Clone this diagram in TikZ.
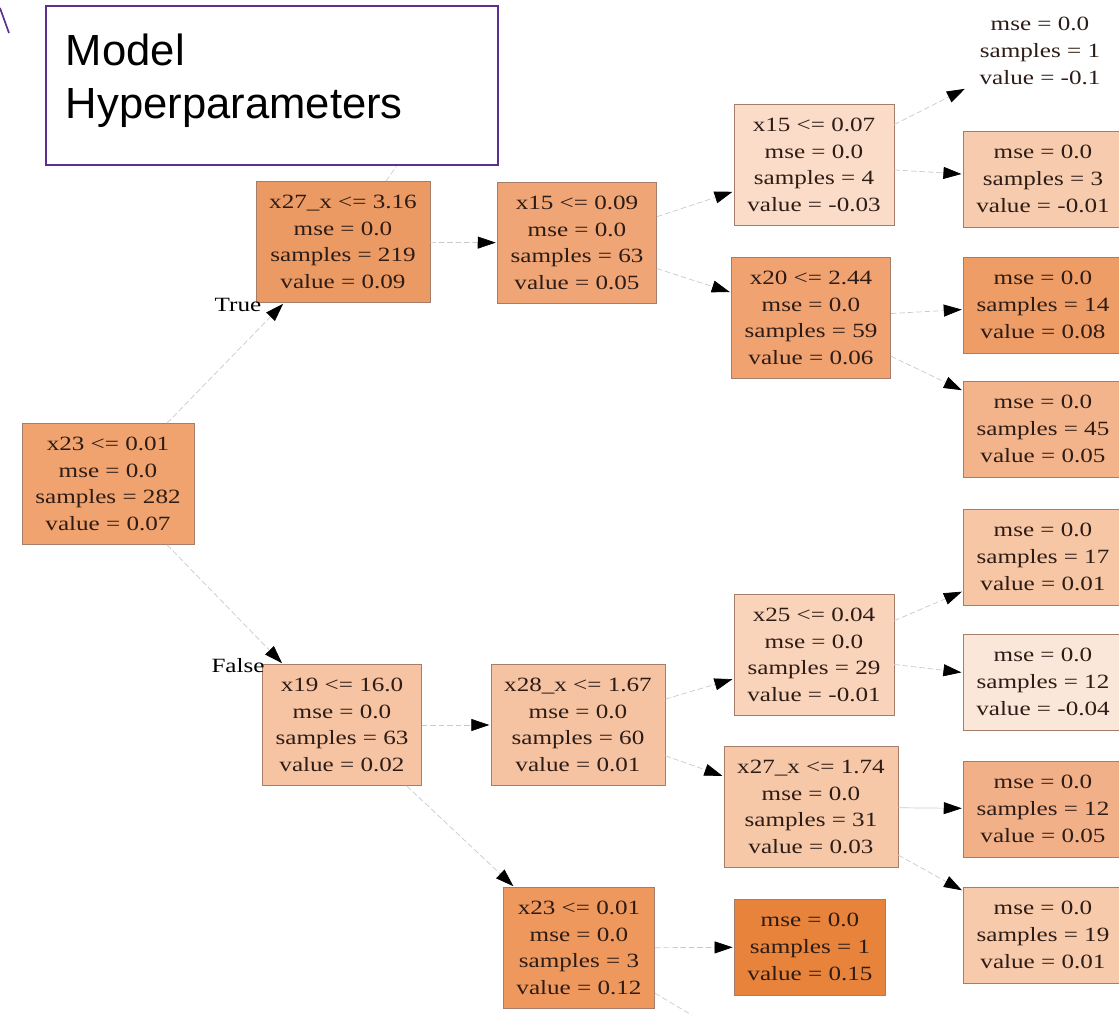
\documentclass[tikz,border=0pt]{standalone}
\usepackage{fontspec}
\newfontfamily\treefont[FakeStretch=1.24]{Liberation Serif}
\newfontfamily\hpfont{Liberation Sans}
\usetikzlibrary{arrows.meta}
\definecolor{hppurple}{RGB}{92,48,142}
\definecolor{treetext}{RGB}{45,28,22}
\definecolor{boxline}{RGB}{165,125,105}
% node fills, dark = high value
\definecolor{fRoot}{HTML}{F0A36E}
\definecolor{fXa}{HTML}{EC9A63}
\definecolor{fXb}{HTML}{EFA575}
\definecolor{fXc}{HTML}{FADCC8}
\definecolor{fXd}{HTML}{F0A271}
\definecolor{fXe}{HTML}{F6C4A3}
\definecolor{fXf}{HTML}{F5C3A2}
\definecolor{fXg}{HTML}{F9D3BA}
\definecolor{fXh}{HTML}{F6C8A8}
\definecolor{fXi}{HTML}{EE985D}
\definecolor{fLb}{HTML}{F7CCAE}
\definecolor{fLc}{HTML}{EE9D66}
\definecolor{fLd}{HTML}{F3B48B}
\definecolor{fLe}{HTML}{F6C6A5}
\definecolor{fLf}{HTML}{FBE7DA}
\definecolor{fLg}{HTML}{F2B088}
\definecolor{fLh}{HTML}{F7CAAB}
\definecolor{fLi}{HTML}{E8833C}
\begin{document}
\begin{tikzpicture}[x=0.025cm, y=-0.025cm,
        split/.style={draw=boxline, line width=0.4pt, minimum height=3.025cm, inner xsep=0.33cm,
            align=center, text=treetext, font=\treefont\fontsize{14.4}{19}\selectfont},
        leaf/.style={split, minimum height=2.4cm},
        edge/.style={draw=gray!42, line width=0.5pt, dash pattern=on 4pt off 2pt,
            -{Triangle[length=0.45cm, width=0.3cm, black]}, shorten >=1pt},
        stub/.style={draw=gray!40, line width=0.5pt, dash pattern=on 4pt off 2pt},
        branch/.style={text=black, font=\treefont\fontsize{14.4}{19}\selectfont}]
        \useasboundingbox (0,0) rectangle (1119,1014);
        % first level
        \node[split, fill=fRoot] (root) at (108,484) {x23 <= 0.01\\mse = 0.0\\samples = 282\\value = 0.07};
        \node[split, fill=fXa] (x27a) at (343,242) {x27\_x <= 3.16\\mse = 0.0\\samples = 219\\value = 0.09};
        \node[split, fill=fXe] (x19) at (342,725) {x19 <= 16.0\\mse = 0.0\\samples = 63\\value = 0.02};
        \node[branch] (lblTrue) at (238,305) {True};
        \node[branch] (lblFalse) at (238,666) {False};
        % upper branch
        \node[split, fill=fXb] (x15a) at (577,243) {x15 <= 0.09\\mse = 0.0\\samples = 63\\value = 0.05};
        \node[split, fill=fXc] (x15b) at (814,165) {x15 <= 0.07\\mse = 0.0\\samples = 4\\value = -0.03};
        \node[split, fill=fXd] (x20) at (811,318) {x20 <= 2.44\\mse = 0.0\\samples = 59\\value = 0.06};
        \node[leaf, draw=none] (leafA) at (1040,51) {mse = 0.0\\samples = 1\\value = -0.1};
        \node[leaf, fill=fLb] (leafB) at (1043,179) {mse = 0.0\\samples = 3\\value = -0.01};
        \node[leaf, fill=fLc] (leafC) at (1043,305) {mse = 0.0\\samples = 14\\value = 0.08};
        \node[leaf, fill=fLd] (leafD) at (1043,429) {mse = 0.0\\samples = 45\\value = 0.05};
        % lower branch
        \node[split, fill=fXf] (x28) at (578,725) {x28\_x <= 1.67\\mse = 0.0\\samples = 60\\value = 0.01};
        \node[split, fill=fXg] (x25) at (814,655) {x25 <= 0.04\\mse = 0.0\\samples = 29\\value = -0.01};
        \node[split, fill=fXh] (x27b) at (811,807) {x27\_x <= 1.74\\mse = 0.0\\samples = 31\\value = 0.03};
        \node[split, fill=fXi] (x23b) at (579,948) {x23 <= 0.01\\mse = 0.0\\samples = 3\\value = 0.12};
        \node[leaf, fill=fLe] (leafE) at (1043,557) {mse = 0.0\\samples = 17\\value = 0.01};
        \node[leaf, fill=fLf] (leafF) at (1043,682) {mse = 0.0\\samples = 12\\value = -0.04};
        \node[leaf, fill=fLg] (leafG) at (1043,809) {mse = 0.0\\samples = 12\\value = 0.05};
        \node[leaf, fill=fLh] (leafH) at (1043,935) {mse = 0.0\\samples = 19\\value = 0.01};
        \node[leaf, fill=fLi] (leafI) at (810,947) {mse = 0.0\\samples = 1\\value = 0.15};
        \coordinate (up27) at (398,164);
        \coordinate (off23) at (700,1020);
        % edges
        \draw[stub] (x27a) -- (up27);
        \draw[edge] (root) -- (x27a);
        \draw[edge] (root) -- (x19);
        \draw[edge] (x27a) -- (x15a);
        \draw[edge] (x15a) -- (x15b);
        \draw[edge] (x15a) -- (x20);
        \draw[edge] (x15b) -- (leafA);
        \draw[edge] (x15b) -- (leafB);
        \draw[edge] (x20) -- (leafC);
        \draw[edge] (x20) -- (leafD);
        \draw[edge] (x19) -- (x28);
        \draw[edge] (x19) -- (x23b);
        \draw[edge] (x28) -- (x25);
        \draw[edge] (x28) -- (x27b);
        \draw[edge] (x25) -- (leafE);
        \draw[edge] (x25) -- (leafF);
        \draw[edge, solid] (x27b) -- (leafG);
        \draw[edge] (x27b) -- (leafH);
        \draw[edge] (x23b) -- (leafI);
        \draw[stub] (x23b) -- (off23);
        % overlay
        \draw[hppurple, line width=1.2pt] (0,8) -- (9,33);
        \node[draw=hppurple, line width=1.4pt, fill=white, anchor=north west, minimum width=11.3cm,
            minimum height=3.975cm, text width=10.3cm, align=left, inner xsep=0.5cm,
            font=\hpfont\fontsize{31}{38}\selectfont] (hp) at (45,5) {Model\\Hyperparameters\vspace*{0.25cm}};
    \end{tikzpicture}
\end{document}
